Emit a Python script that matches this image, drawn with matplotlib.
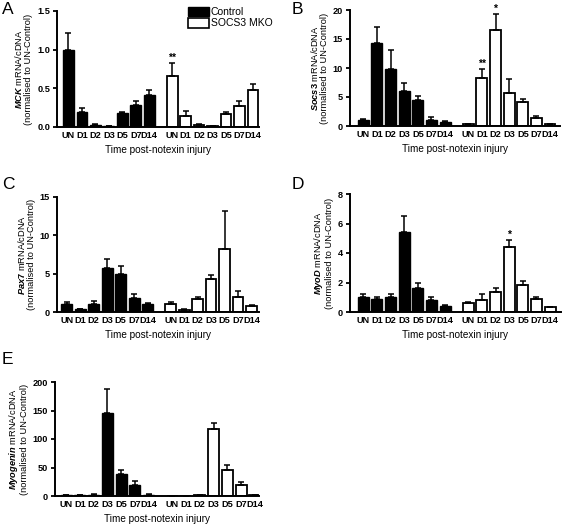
import numpy as np
import matplotlib
matplotlib.use('Agg')
import matplotlib.pyplot as plt
from matplotlib.patches import Patch

plt.rc('font', family=['Liberation Sans', 'DejaVu Sans'], weight='bold')
plt.rc('mathtext', fontset='custom', it='Liberation Sans:italic:bold',
       rm='Liberation Sans:bold')

days = ['UN', 'D1', 'D2', 'D3', 'D5', 'D7', 'D14']

# panel A - MCK
mck_ctrl = [1.0, 0.2, 0.03, 0.01, 0.18, 0.28, 0.42]
mck_ctrl_top = [1.22, 0.24, 0.04, 0.012, 0.19, 0.34, 0.48]
mck_ko = [0.66, 0.14, 0.03, 0.01, 0.17, 0.27, 0.48]
mck_ko_top = [0.83, 0.21, 0.04, 0.012, 0.195, 0.34, 0.56]

# panel B - Socs3
socs_ctrl = [1.0, 14.3, 9.9, 6.0, 4.4, 1.1, 0.7]
socs_ctrl_top = [1.2, 17.0, 13.1, 7.4, 5.2, 1.6, 0.85]
socs_ko = [0.3, 8.3, 16.6, 5.7, 4.1, 1.3, 0.3]
socs_ko_top = [0.4, 9.9, 19.3, 8.1, 4.7, 1.7, 0.35]

# panel C - Pax7
pax_ctrl = [1.0, 0.4, 1.1, 5.8, 5.0, 1.8, 1.0]
pax_ctrl_top = [1.25, 0.45, 1.4, 6.9, 6.0, 2.4, 1.15]
pax_ko = [1.0, 0.3, 1.7, 4.3, 8.2, 2.0, 0.8]
pax_ko_top = [1.35, 0.4, 1.9, 4.8, 13.2, 2.7, 0.9]

# panel D - MyoD
myod_ctrl = [1.0, 0.85, 1.05, 5.45, 1.65, 0.8, 0.4]
myod_ctrl_top = [1.2, 1.0, 1.25, 6.5, 1.95, 1.0, 0.45]
myod_ko = [0.6, 0.8, 1.35, 4.4, 1.8, 0.85, 0.35]
myod_ko_top = [0.7, 1.2, 1.65, 4.9, 2.1, 1.0, 0.37]

# panel E - Myogenin
myog_ctrl = [1, 1.5, 2.5, 146, 39, 20, 2]
myog_ctrl_top = [1.2, 1.8, 3, 188, 45, 26, 3]
myog_ko = [0.5, 0.5, 1.5, 118, 45, 20, 1.5]
myog_ko_top = [0.6, 0.6, 1.8, 128, 55, 24, 2]

W, H = 566, 525
fig = plt.figure(figsize=(W/100, H/100), dpi=100)

gap = 1.7
x_ctrl = np.arange(7)
x_ko = np.arange(7) + 6 + gap


def px_axes(l, t, r, b):
    return fig.add_axes([l/W, 1 - b/H, (r-l)/W, (b-t)/H])


def panel(box, gene, ctrl, ctrl_top, ko, ko_top, yticks, xlim, stars):
    ax = px_axes(*box)
    ax.bar(x_ctrl, ctrl, 0.8, color='black', edgecolor='black', lw=1)
    ax.bar(x_ko, ko, 0.8, color='white', edgecolor='black', lw=1.3)
    for xs, v, t in [(x_ctrl, ctrl, ctrl_top), (x_ko, ko, ko_top)]:
        v = np.array(v, float)
        up = np.array(t, float) - v
        ax.errorbar(xs, v, yerr=[np.zeros(7), up], fmt='none', ecolor='black',
                    elinewidth=1.1, capsize=2.5, capthick=1.1)
    for i, s in stars:
        ax.text(x_ko[i], ko_top[i], s, ha='center', va='bottom', fontsize=7.5)
    ax.set_ylim(0, yticks[-1])
    ax.set_yticks(yticks)
    ax.set_xlim(*xlim)
    ax.set_xticks(np.concatenate([x_ctrl, x_ko]))
    ax.set_xticklabels(days + days)
    ax.tick_params(axis='x', length=0, pad=3, labelsize=6.6)
    ax.tick_params(axis='y', direction='out', length=3, width=1.3, labelsize=6.6, pad=2)
    for s in ['top', 'right']:
        ax.spines[s].set_visible(False)
    for s in ['left', 'bottom']:
        ax.spines[s].set_linewidth(1.4)
    ax.set_ylabel(r'$\it{' + gene + r'}$ mRNA/cDNA' + '\n(normalised to UN-Control)',
                  fontsize=6.7, labelpad=3, linespacing=1.0)
    ax.set_xlabel('Time post-notexin injury', fontsize=7.2, labelpad=3.5)
    return ax


axA = panel((57, 11, 259, 127), 'MCK', mck_ctrl, mck_ctrl_top, mck_ko, mck_ko_top,
            [0.0, 0.5, 1.0, 1.5], (-0.85, 14.15), [(0, '**')])
axA.set_yticklabels(['0.0', '0.5', '1.0', '1.5'])
panel((350, 10, 560, 126), 'Socs3', socs_ctrl, socs_ctrl_top, socs_ko, socs_ko_top,
      [0, 5, 10, 15, 20], (-0.97, 14.43), [(1, '**'), (2, '*')])
panel((57, 197, 259, 312), 'Pax7', pax_ctrl, pax_ctrl_top, pax_ko, pax_ko_top,
      [0, 5, 10, 15], (-0.72, 14.25), [])
panel((350, 194, 561, 312), 'MyoD', myod_ctrl, myod_ctrl_top, myod_ko, myod_ko_top,
      [0, 2, 4, 6, 8], (-0.97, 14.5), [(3, '*')])
panel((55, 382, 259, 496), 'Myogenin', myog_ctrl, myog_ctrl_top, myog_ko, myog_ko_top,
      [0, 50, 100, 150, 200], (-0.8, 14.0), [])

handles = [Patch(facecolor='black', edgecolor='black', label='Control'),
           Patch(facecolor='white', edgecolor='black', lw=1.2, label='SOCS3 MKO')]
fig.legend(handles=handles, loc='upper left', bbox_to_anchor=(188/W, 1 - 7/H),
           frameon=False, prop={'weight': 'normal', 'size': 7.5},
           handlelength=2.0, handleheight=1.0, handletextpad=0.2,
           labelspacing=0.1, borderpad=0, borderaxespad=0)

for lab, x, y in [('A', 2, 2), ('B', 292, 2), ('C', 2, 177), ('D', 292, 177), ('E', 2, 352)]:
    fig.text(x/W, 1 - y/H, lab, fontsize=12.5, weight='normal', va='top', ha='left')

fig.savefig('out.png', dpi=100)
